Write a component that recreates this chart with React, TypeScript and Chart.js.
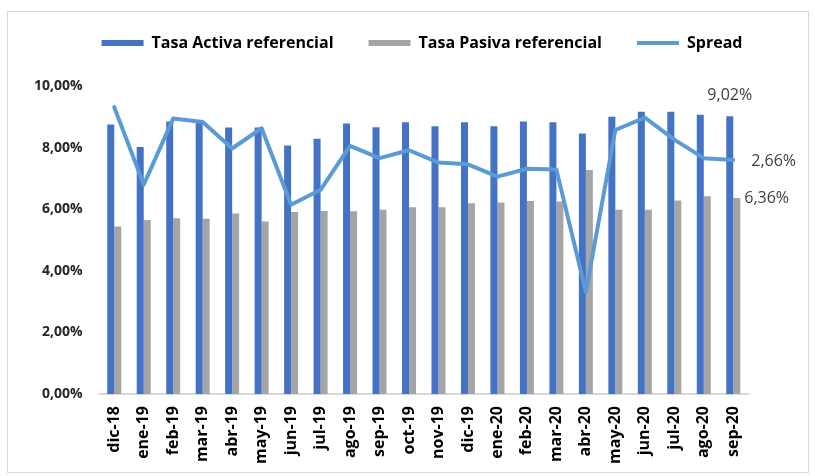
import React, { useEffect, useRef } from "react";
import { Chart, registerables } from "chart.js";

Chart.register(...registerables);

const categories = [
  "dic-18", "ene-19", "feb-19", "mar-19", "abr-19", "may-19", "jun-19", "jul-19",
  "ago-19", "sep-19", "oct-19", "nov-19", "dic-19", "ene-20", "feb-20", "mar-20",
  "abr-20", "may-20", "jun-20", "jul-20", "ago-20", "sep-20",
];

const tasaActiva = [
  8.75, 8.02, 8.85, 8.8, 8.65, 8.65, 8.07, 8.29, 8.78, 8.66, 8.82, 8.69,
  8.82, 8.69, 8.85, 8.82, 8.46, 9.0, 9.16, 9.16, 9.07, 9.02,
];

const tasaPasiva = [
  5.44, 5.65, 5.71, 5.69, 5.86, 5.6, 5.91, 5.94, 5.93, 5.98, 6.06, 6.06,
  6.19, 6.22, 6.27, 6.25, 7.27, 5.98, 5.98, 6.28, 6.42, 6.36,
];

const spread = [
  3.26, 2.38, 3.13, 3.09, 2.79, 3.02, 2.15, 2.32, 2.82, 2.68, 2.77, 2.63,
  2.61, 2.47, 2.56, 2.55, 1.16, 3.0, 3.14, 2.89, 2.68, 2.66,
];

const seriesNames = ["Tasa Activa referencial", "Tasa Pasiva referencial", "Spread"];

const fmt = (v: number) => v.toFixed(2).replace(".", ",") + "%";

const FONT = "'Open Sans', sans-serif";

const legendPlacePlugin = {
  id: "legendPlace",
  beforeInit(chart: any) {
    const leg = chart.legend;
    if (!leg) return;
    const orig = leg.fit;
    leg.fit = function () {
      orig.call(this);
      this.height = 86;
    };
  },
  afterLayout(chart: any) {
    const leg = chart.legend;
    if (!leg) return;
    leg.left += 48;
    leg.right += 48;
  },
};

const lastLabelsPlugin = {
  id: "lastLabels",
  afterDatasetsDraw(chart: any) {
    const n = categories.length - 1;
    const a = chart.getDatasetMeta(0).data[n];
    const p = chart.getDatasetMeta(1).data[n];
    const s = chart.getDatasetMeta(2).data[n];
    const ctx = chart.ctx;
    ctx.save();
    ctx.font = `16px ${FONT}`;
    ctx.fillStyle = "#404040";
    ctx.textBaseline = "middle";
    ctx.textAlign = "center";
    ctx.fillText(fmt(tasaActiva[n]), a.x, a.y - 21);
    ctx.textAlign = "left";
    ctx.fillText(fmt(spread[n]), s.x + 18, s.y + 2);
    ctx.fillText(fmt(tasaPasiva[n]), p.x + p.width / 2 + 4, p.y);
    ctx.restore();
  },
};

export default function App() {
  const ref = useRef<HTMLCanvasElement>(null);

  useEffect(() => {
    document.body.style.margin = "0";
    const canvas = ref.current;
    if (!canvas) return;
    const chart = new Chart(canvas, {
      type: "bar",
      data: {
        labels: categories,
        datasets: [
          {
            type: "bar",
            label: seriesNames[0],
            data: tasaActiva,
            backgroundColor: "#4472C4",
            borderWidth: 0,
            yAxisID: "y",
            order: 2,
            categoryPercentage: 0.475,
            barPercentage: 1,
          },
          {
            type: "bar",
            label: seriesNames[1],
            data: tasaPasiva,
            backgroundColor: "#A5A5A5",
            borderWidth: 0,
            yAxisID: "y",
            order: 2,
            categoryPercentage: 0.475,
            barPercentage: 1,
          },
          {
            type: "line",
            label: seriesNames[2],
            data: spread,
            borderColor: "#5B9BD5",
            backgroundColor: "#5B9BD5",
            borderWidth: 4,
            pointRadius: 0,
            tension: 0,
            borderJoinStyle: "round",
            borderCapStyle: "round",
            yAxisID: "y2",
            order: 1,
          },
        ],
      } as any,
      options: {
        responsive: false,
        animation: false,
        layout: { padding: { left: 0, right: 67, top: 0, bottom: 0 } },
        plugins: {
          tooltip: { enabled: false },
          legend: {
            position: "top",
            labels: {
              usePointStyle: true,
              pointStyleWidth: 42,
              boxHeight: 6,
              padding: 35,
              color: "#000000",
              font: { family: FONT, size: 16, weight: "bold" },
              generateLabels: (chart: any) =>
                chart.data.datasets.map((ds: any, i: number) => ({
                  text: ds.label,
                  fillStyle: ds.type === "line" ? ds.borderColor : ds.backgroundColor,
                  strokeStyle: ds.type === "line" ? ds.borderColor : ds.backgroundColor,
                  lineWidth: ds.type === "line" ? 4 : 0,
                  pointStyle: ds.type === "line" ? "line" : "rect",
                  hidden: false,
                  datasetIndex: i,
                  fontColor: "#000000",
                })),
            },
          },
        },
        scales: {
          x: {
            grid: { display: false, drawTicks: false },
            border: { display: true, color: "#D9D9D9", width: 2 },
            ticks: {
              minRotation: 90,
              maxRotation: 90,
              padding: 12,
              color: "#000000",
              font: { family: FONT, size: 16, weight: "bold" },
            },
            afterFit: (scale: any) => {
              scale.height = 82;
            },
          },
          y: {
            position: "left",
            min: 0,
            max: 10,
            grid: { display: false, drawTicks: false },
            border: { display: false },
            ticks: {
              stepSize: 2,
              padding: 17,
              color: "#262626",
              font: { family: FONT, size: 14, weight: "bold" },
              callback: (v: any) => fmt(Number(v)),
            },
            afterFit: (scale: any) => {
              scale.width = 99.5;
            },
          },
          y2: {
            position: "right",
            display: false,
            min: 0,
            max: 3.5,
          },
        },
      } as any,
      plugins: [legendPlacePlugin, lastLabelsPlugin],
    });
    return () => chart.destroy();
  }, []);

  return (
    <div style={{ position: "relative", width: 815, height: 476, background: "#ffffff" }}>
      <div
        style={{
          position: "absolute",
          left: 7,
          top: 11,
          width: 802,
          height: 462,
          border: "1px solid #D9D9D9",
          boxSizing: "border-box",
        }}
      />
      <canvas
        ref={ref}
        width={815}
        height={476}
        style={{ position: "absolute", left: 0, top: 0 }}
      />
    </div>
  );
}
